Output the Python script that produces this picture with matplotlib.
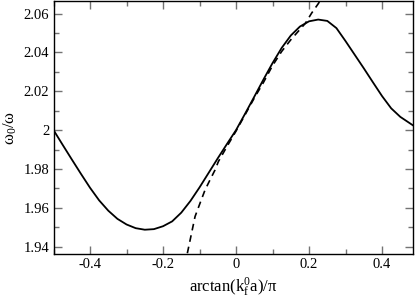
import matplotlib
matplotlib.use("Agg")
import matplotlib.pyplot as plt
from matplotlib.ticker import MultipleLocator, FormatStrFormatter

# values
x_full = [-0.5, -0.475, -0.45, -0.425, -0.4, -0.375, -0.35, -0.325, -0.3, -0.275,
          -0.25, -0.225, -0.2, -0.175, -0.15, -0.125, -0.1, -0.075, -0.05, -0.025,
          0.0, 0.025, 0.05, 0.075, 0.1, 0.125, 0.15, 0.175, 0.2, 0.225,
          0.25, 0.275, 0.3, 0.325, 0.35, 0.375, 0.4, 0.425, 0.45, 0.485]
y_full = [2.0, 1.9924, 1.9849, 1.9775, 1.9703, 1.9638, 1.9585, 1.9543, 1.9514, 1.9495,
          1.9487, 1.949, 1.9505, 1.953, 1.9575, 1.9635, 1.9705, 1.978, 1.9855, 1.9928,
          2.0, 2.0085, 2.0172, 2.026, 2.0345, 2.0423, 2.0487, 2.0533, 2.056, 2.0569,
          2.0562, 2.0525, 2.0458, 2.0388, 2.0318, 2.0246, 2.0175, 2.0112, 2.0068, 2.0024]

x_approx = [-0.1334, -0.1123, -0.0986, -0.0849, -0.0712, -0.0575, -0.0484, -0.025,
            0.0, 0.025, 0.05, 0.075, 0.1, 0.125, 0.15, 0.175, 0.19, 0.207, 0.225, 0.235]
y_approx = [1.9366, 1.9555, 1.9624, 1.9692, 1.9744, 1.9795, 1.9838, 1.9915,
            1.9995, 2.008, 2.0165, 2.0245, 2.0332, 2.0405, 2.0465, 2.0518, 2.055, 2.0602, 2.065, 2.068]

plt.rcParams["font.family"] = ["Liberation Serif", "DejaVu Serif"]
plt.rcParams["mathtext.fontset"] = "custom"
plt.rcParams["mathtext.rm"] = "Liberation Serif"
plt.rcParams["mathtext.it"] = "Liberation Serif"
plt.rcParams["axes.unicode_minus"] = False

fig = plt.figure(figsize=(4.15, 2.99), dpi=100)
ax = fig.add_axes([0.129, 0.1505, 0.8655, 0.8445])

ax.plot(x_full, y_full, color="black", lw=1.3)
ax.plot(x_approx, y_approx, color="black", lw=1.2, ls=(0, (4, 3)))

ax.set_xlim(-0.5, 0.484)
ax.set_ylim(1.9362, 2.0662)

ax.xaxis.set_major_locator(MultipleLocator(0.2))
ax.xaxis.set_minor_locator(MultipleLocator(0.1))
ax.yaxis.set_major_locator(MultipleLocator(0.02))
ax.yaxis.set_minor_locator(MultipleLocator(0.01))
ax.xaxis.set_major_formatter(FormatStrFormatter("%g"))
ax.yaxis.set_major_formatter(FormatStrFormatter("%g"))

ax.tick_params(which="both", direction="in", top=True, right=True,
               color="0.45", labelsize=10.5, pad=3)
ax.tick_params(which="major", length=6, width=1)
ax.tick_params(which="minor", length=3.5, width=1)
for s in ax.spines.values():
    s.set_linewidth(1.0)

ax.set_xlabel(r"arctan(k$_{f}^{0}$a)/π", fontsize=12, labelpad=3)
ax.set_ylabel(r"ω$_0$/ω", fontsize=12, labelpad=3)

fig.savefig("out.png", dpi=100)
